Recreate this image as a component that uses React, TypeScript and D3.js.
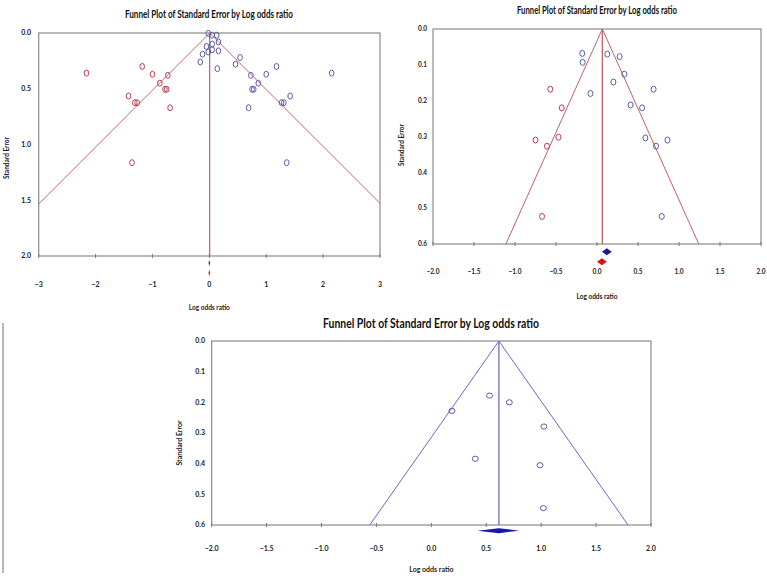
import React from "react";
import * as d3 from "d3";

// ---------- Data ----------
const titleText = "Funnel Plot of Standard Error by Log odds ratio";
const xAxisTitle = "Log odds ratio";
const yAxisTitle = "Standard Error";

// Panel A (top-left)
const aXTicks = [-3, -2, -1, 0, 1, 2, 3];
const aYTicks = [0, 0.5, 1.0, 1.5, 2.0];
const aObsLogOdds = [-0.02, 0.05, 0.13, 0.16, 0.05, -0.05, 0.05, 0.16, -0.02, -0.12, -0.16, 0.14, 0.54, 0.46, 0.73, 1.0, 1.18, 2.15, 0.86, 0.75, 0.78, 1.27, 1.31, 1.42, 0.69, 1.36];
const aObsSE = [0.003, 0.02, 0.02, 0.08, 0.1, 0.12, 0.15, 0.16, 0.17, 0.19, 0.26, 0.32, 0.22, 0.28, 0.38, 0.37, 0.3, 0.36, 0.45, 0.505, 0.505, 0.625, 0.625, 0.565, 0.67, 1.163];
const aImpLogOdds = [-2.16, -1.18, -1.0, -0.73, -0.87, -0.75, -0.78, -1.42, -1.27, -1.31, -0.69, -1.36];
const aImpSE = [0.36, 0.3, 0.37, 0.38, 0.45, 0.505, 0.505, 0.565, 0.625, 0.625, 0.67, 1.163];
const aCenter = 0.005;
const aObsSummary = [-0.015, 0.0, 0.015];
const aAdjSummary = [-0.015, 0.0, 0.015];

// Panel B (top-right)
const bXTicks = [-2.0, -1.5, -1.0, -0.5, 0.0, 0.5, 1.0, 1.5, 2.0];
const bYTicks = [0, 0.1, 0.2, 0.3, 0.4, 0.5, 0.6];
const bObsLogOdds = [-0.18, -0.175, 0.126, 0.276, 0.333, 0.2, -0.08, 0.69, 0.41, 0.55, 0.59, 0.86, 0.72, 0.79];
const bObsSE = [0.068, 0.093, 0.07, 0.077, 0.126, 0.148, 0.18, 0.168, 0.212, 0.22, 0.304, 0.31, 0.327, 0.523];
const bImpLogOdds = [-0.57, -0.43, -0.75, -0.47, -0.61, -0.67];
const bImpSE = [0.168, 0.22, 0.31, 0.302, 0.327, 0.523];
const bCenter = 0.065;
const bObsSummary = [0.06, 0.12, 0.18];
const bAdjSummary = [0.0, 0.06, 0.12];

// Panel C (bottom)
const cXTicks = [-2.0, -1.5, -1.0, -0.5, 0.0, 0.5, 1.0, 1.5, 2.0];
const cYTicks = [0, 0.1, 0.2, 0.3, 0.4, 0.5, 0.6];
const cObsLogOdds = [0.187, 0.53, 0.71, 1.025, 0.4, 0.99, 1.02];
const cObsSE = [0.228, 0.178, 0.2, 0.279, 0.384, 0.405, 0.545];
const cCenter = 0.615;
const cObsSummary = [0.42, 0.615, 0.8];

// ---------- Panel ----------
type PanelProps = {
  id: string;
  x0: number; x1: number; y0: number; y1: number;
  xDomain: [number, number]; yDomain: [number, number];
  xTicks: number[]; yTicks: number[];
  xFmt: (v: number) => string; yFmt: (v: number) => string;
  obsX: number[]; obsY: number[];
  impX?: number[]; impY?: number[];
  center: number;
  lineColor: string; obsColor: string; impColor: string;
  obsSummary: number[]; adjSummary?: number[];
  obsDiamondColor: string; adjDiamondColor: string;
  diamondY1: number; diamondY2?: number; diamondH: number;
  title: { x: number; y: number; size: number; len: number };
  yTitle: { x: number; y: number; size: number };
  xTitle: { y: number; size: number };
  tickSize: number; xTickLabelY: number; yTickLabelX: number;
  rx: number; ry: number;
};

function Panel(p: PanelProps) {
  const xs = d3.scaleLinear().domain(p.xDomain).range([p.x0, p.x1]);
  const ys = d3.scaleLinear().domain(p.yDomain).range([p.y0, p.y1]);
  const seMax = p.yDomain[1];
  const funnel = d3.line<[number, number]>().x((d) => xs(d[0])).y((d) => ys(d[1]));
  const funnelPts: [number, number][] = [[p.center - 1.96 * seMax, seMax], [p.center, 0], [p.center + 1.96 * seMax, seMax]];
  const diamond = (s: number[], cy: number) => {
    const h = p.diamondH / 2;
    return `M${xs(s[0])},${cy} L${xs(s[1])},${cy - h} L${xs(s[2])},${cy} L${xs(s[1])},${cy + h} Z`;
  };
  const font = "Lato, 'Open Sans', sans-serif";
  return (
    <g>
      <defs>
        <clipPath id={`clip-${p.id}`}>
          <rect x={p.x0} y={p.y0} width={p.x1 - p.x0} height={p.y1 - p.y0} />
        </clipPath>
      </defs>
      <text x={p.title.x} y={p.title.y} textAnchor="middle" fontFamily={font} fontWeight="bold"
        fontSize={p.title.size} textLength={p.title.len} lengthAdjust="spacingAndGlyphs" fill="#111">
        {titleText}
      </text>
      <rect x={p.x0} y={p.y0} width={p.x1 - p.x0} height={p.y1 - p.y0} fill="none" stroke="#8a8a8a" strokeWidth={1.2} />
      <g clipPath={`url(#clip-${p.id})`}>
        <path d={funnel(funnelPts) || ""} fill="none" stroke={p.lineColor} strokeWidth={1} />
        <line x1={xs(p.center)} x2={xs(p.center)} y1={ys(0)} y2={ys(seMax)} stroke={p.lineColor} strokeWidth={1.3} />
      </g>
      {p.xTicks.map((t) => (
        <g key={`xt${t}`}>
          <line x1={xs(t)} x2={xs(t)} y1={p.y1 - 2} y2={p.y1 + 2} stroke="#777" strokeWidth={1} />
          <text x={xs(t)} y={p.xTickLabelY} textAnchor="middle" fontFamily={font} fontWeight="bold" fontSize={p.tickSize} fill="#222">
            {p.xFmt(t)}
          </text>
        </g>
      ))}
      {p.yTicks.map((t) => (
        <text key={`yt${t}`} x={p.yTickLabelX} y={ys(t)} dy="0.35em" textAnchor="end" fontFamily={font} fontWeight="bold" fontSize={p.tickSize} fill="#222">
          {p.yFmt(t)}
        </text>
      ))}
      {(p.impX || []).map((v, i) => (
        <ellipse key={`imp${i}`} cx={xs(v)} cy={ys((p.impY || [])[i])} rx={p.rx} ry={p.ry} fill="none" stroke={p.impColor} strokeWidth={1} />
      ))}
      {p.obsX.map((v, i) => (
        <ellipse key={`obs${i}`} cx={xs(v)} cy={ys(p.obsY[i])} rx={p.rx} ry={p.ry} fill="none" stroke={p.obsColor} strokeWidth={1} />
      ))}
      <path d={diamond(p.obsSummary, p.diamondY1)} fill={p.obsDiamondColor} />
      {p.adjSummary && p.diamondY2 !== undefined && (
        <path d={diamond(p.adjSummary, p.diamondY2)} fill={p.adjDiamondColor} />
      )}
      <text x={(p.x0 + p.x1) / 2} y={p.xTitle.y} textAnchor="middle" fontFamily={font} fontWeight="bold" fontSize={p.xTitle.size} fill="#222">
        {xAxisTitle}
      </text>
      <text transform={`translate(${p.yTitle.x},${p.yTitle.y}) rotate(-90)`} textAnchor="middle" dy="0.35em" fontFamily={font} fontWeight="bold" fontSize={p.yTitle.size} fill="#222">
        {yAxisTitle}
      </text>
    </g>
  );
}

export default function App() {
  const f1 = (v: number) => d3.format(".1f")(v);
  const f0 = (v: number) => d3.format("d")(v);
  return (
    <svg width={767} height={576} style={{ position: "absolute", left: 0, top: 0, background: "#fff" }}>
      <rect width={767} height={576} fill="#fff" />
      <Panel id="a" x0={38.7} x1={380} y0={33} y1={256}
        xDomain={[-3, 3]} yDomain={[0, 2]} xTicks={aXTicks} yTicks={aYTicks} xFmt={f0} yFmt={f1}
        obsX={aObsLogOdds} obsY={aObsSE} impX={aImpLogOdds} impY={aImpSE} center={aCenter}
        lineColor="#c46a72" obsColor="#5c5ca6" impColor="#b8404e"
        obsSummary={aObsSummary} adjSummary={aAdjSummary} obsDiamondColor="#3838b8" adjDiamondColor="#c82828"
        diamondY1={263} diamondY2={273} diamondH={7}
        title={{ x: 209, y: 18, size: 11.5, len: 168 }} yTitle={{ x: 7, y: 158, size: 6.5 }} xTitle={{ y: 310, size: 6.5 }}
        tickSize={7} xTickLabelY={287} yTickLabelX={31} rx={2.3} ry={3} />
      <Panel id="b" x0={433} x1={761} y0={29} y1={244}
        xDomain={[-2, 2]} yDomain={[0, 0.6]} xTicks={bXTicks} yTicks={bYTicks} xFmt={f1} yFmt={f1}
        obsX={bObsLogOdds} obsY={bObsSE} impX={bImpLogOdds} impY={bImpSE} center={bCenter}
        lineColor="#c4606c" obsColor="#5c5ca6" impColor="#b8404e"
        obsSummary={bObsSummary} adjSummary={bAdjSummary} obsDiamondColor="#1a1aa0" adjDiamondColor="#e01010"
        diamondY1={251.7} diamondY2={261.7} diamondH={7}
        title={{ x: 597, y: 14, size: 11.5, len: 160 }} yTitle={{ x: 402, y: 145, size: 6.5 }} xTitle={{ y: 299, size: 6.5 }}
        tickSize={6.5} xTickLabelY={274} yTickLabelX={427} rx={2.5} ry={3} />
      <Panel id="c" x0={211.7} x1={651} y0={341} y1={525}
        xDomain={[-2, 2]} yDomain={[0, 0.6]} xTicks={cXTicks} yTicks={cYTicks} xFmt={f1} yFmt={f1}
        obsX={cObsLogOdds} obsY={cObsSE} center={cCenter}
        lineColor="#6a6ac2" obsColor="#5c5ca6" impColor="#b8404e"
        obsSummary={cObsSummary} obsDiamondColor="#1616b0" adjDiamondColor="#1616b0"
        diamondY1={530.7} diamondH={5}
        title={{ x: 431, y: 328, size: 13.5, len: 216 }} yTitle={{ x: 180, y: 443, size: 7 }} xTitle={{ y: 572, size: 7 }}
        tickSize={7} xTickLabelY={551} yTickLabelX={205} rx={3} ry={2.6} />
      <line x1={3} x2={3} y1={323} y2={573} stroke="#888" strokeWidth={1.2} />
    </svg>
  );
}
